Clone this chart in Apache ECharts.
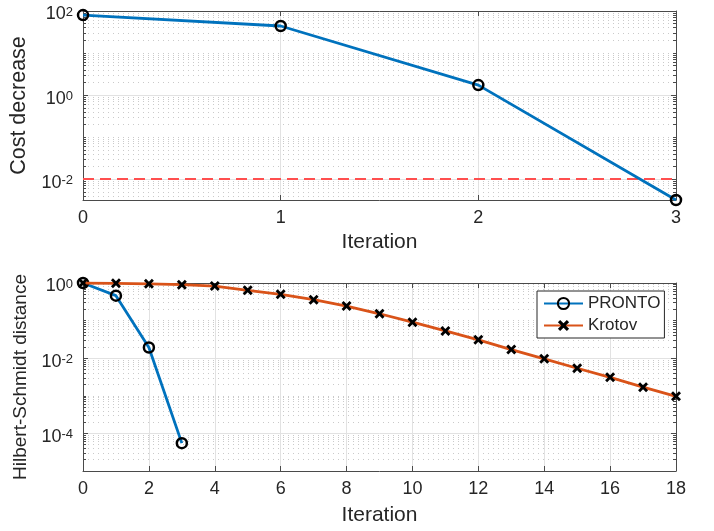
<!DOCTYPE html>
<html>
<head>
<meta charset="utf-8">
<script src="https://cdn.jsdelivr.net/npm/echarts@6/dist/echarts.min.js"></script>
<style>html,body{margin:0;padding:0;background:#fff}#c{width:714px;height:531px}</style>
</head>
<body>
<div id="c"></div>
<script>
// ---- data ----
const costIter = [0, 1, 2, 3];
const costValues = [80, 44, 1.73, 0.0032];
const costThreshold = 0.01;

const prontoIter = [0, 1, 2, 3];
const prontoValues = [1, 0.46, 0.0193, 5.5e-5];

const krotovIter = [0,1,2,3,4,5,6,7,8,9,10,11,12,13,14,15,16,17,18];
const krotovValues = [1, 0.98, 0.95, 0.9, 0.83, 0.64, 0.5, 0.36, 0.244, 0.152, 0.091, 0.053, 0.0308, 0.017, 0.0096, 0.0054, 0.0031, 0.0017, 0.00097];

const topXTicks = [0, 1, 2, 3];
const topYTicks = [0.01, 1, 100];
const bottomXTicks = [0, 2, 4, 6, 8, 10, 12, 14, 16, 18];
const bottomYTicks = [1e-4, 1e-2, 1];

const topYRange = [0.0032, 100];
const bottomYRange = [1e-5, 1];

// ---- helpers ----
const FONT = 'Liberation Sans, Arial, Helvetica, sans-serif';
const TXT = '#262626';
const AX = '#4a4a4a';
const MAJOR_GRID = '#e2e2e2';
const MINOR_GRID = '#cacaca';

function minorValues(range, majors) {
  const out = [];
  const k0 = Math.floor(Math.log10(range[0])) - 1;
  const k1 = Math.ceil(Math.log10(range[1])) + 1;
  for (let k = k0; k <= k1; k++) {
    for (let m = 1; m <= 9; m++) {
      const v = parseFloat((m * Math.pow(10, k)).toPrecision(6));
      if (v < range[0] * 0.999 || v > range[1] * 1.001) continue;
      if (majors.some(t => Math.abs(Math.log10(t) - Math.log10(v)) < 1e-6)) continue;
      out.push(v);
    }
  }
  return out;
}
function supLabel(v) {
  const e = Math.round(Math.log10(v));
  return '{b|10}{s|' + e + '}';
}
const richSup = {
  b: {fontSize: 18, fontFamily: FONT, color: TXT, lineHeight: 18, verticalAlign: 'bottom'},
  s: {fontSize: 13, fontFamily: FONT, color: TXT, lineHeight: 13, verticalAlign: 'top'}
};

function xAxes(gridIndex, ticks, name, nameGap) {
  const mn = ticks[0], mx = ticks[ticks.length - 1], iv = ticks[1] - ticks[0];
  return [
    {
      type: 'value', gridIndex, min: mn, max: mx, interval: iv, position: 'bottom',
      name, nameLocation: 'middle', nameGap,
      nameTextStyle: {fontSize: 21, fontFamily: FONT, color: TXT},
      axisLine: {show: true, onZero: false, lineStyle: {color: AX, width: 1}},
      axisTick: {show: true, inside: true, length: 5, lineStyle: {color: AX}},
      axisLabel: {fontSize: 18, fontFamily: FONT, color: TXT, margin: 9},
      splitLine: {show: true, lineStyle: {color: MAJOR_GRID, width: 1}}
    },
    {
      type: 'value', gridIndex, min: mn, max: mx, interval: iv, position: 'top',
      axisLine: {show: true, onZero: false, lineStyle: {color: AX, width: 1}},
      axisTick: {show: true, inside: true, length: 5, lineStyle: {color: AX}},
      axisLabel: {show: false},
      splitLine: {show: false}
    }
  ];
}

function yAxes(gridIndex, range, majors, name, nameSize, nameGap) {
  const minors = minorValues(range, majors);
  const base = {type: 'log', logBase: 10, gridIndex, min: range[0], max: range[1]};
  return [
    Object.assign({}, base, {
      position: 'left', name, nameLocation: 'middle', nameGap,
      nameTextStyle: {fontSize: nameSize, fontFamily: FONT, color: TXT},
      axisLine: {show: true, lineStyle: {color: AX, width: 1}},
      axisTick: {show: true, inside: true, length: 5, lineStyle: {color: AX}, customValues: majors},
      axisLabel: {show: true, margin: 10, customValues: majors, formatter: supLabel, rich: richSup, padding: [7, 0, 0, 0]},
      splitLine: {show: true, lineStyle: {color: MAJOR_GRID, width: 1}}
    }),
    Object.assign({}, base, {
      position: 'left',
      axisLine: {show: false},
      axisTick: {show: true, inside: true, length: 3, lineStyle: {color: AX}, customValues: minors},
      axisLabel: {show: false, customValues: minors},
      splitLine: {show: true, lineStyle: {color: MINOR_GRID, width: 1, type: [1, 4]}}
    }),
    Object.assign({}, base, {
      position: 'right',
      axisLine: {show: true, lineStyle: {color: AX, width: 1}},
      axisTick: {show: true, inside: true, length: 5, lineStyle: {color: AX}, customValues: majors},
      axisLabel: {show: false, customValues: majors},
      splitLine: {show: false}
    }),
    Object.assign({}, base, {
      position: 'right',
      axisLine: {show: false},
      axisTick: {show: true, inside: true, length: 3, lineStyle: {color: AX}, customValues: minors},
      axisLabel: {show: false, customValues: minors},
      splitLine: {show: false}
    })
  ];
}

const circleSym = {
  symbol: 'circle', symbolSize: 10,
  itemStyle: {color: 'rgba(0,0,0,0)', borderColor: '#000', borderWidth: 2.5}
};
const xSym = 'path://M2,0 L5,3 L8,0 L10,2 L7,5 L10,8 L8,10 L5,7 L2,10 L0,8 L3,5 L0,2 Z';

const pairs = (xs, ys) => xs.map((x, i) => [x, ys[i]]);

const option = {
  animation: false,
  backgroundColor: '#fff',
  textStyle: {fontFamily: FONT},
  grid: [
    {left: 83, right: 38, top: 11, height: 189, containLabel: false},
    {left: 83, right: 38, top: 283, height: 188, containLabel: false}
  ],
  xAxis: [].concat(xAxes(0, topXTicks, 'Iteration', 32), xAxes(1, bottomXTicks, 'Iteration', 34)),
  yAxis: [].concat(
    yAxes(0, topYRange, topYTicks, 'Cost decrease', 21.5, 46),
    yAxes(1, bottomYRange, bottomYTicks, 'Hilbert-Schmidt distance', 19, 47)
  ),
  legend: {
    data: ['PRONTO', 'Krotov'],
    orient: 'vertical', left: 537, top: 291,
    padding: [4, 4, 4, 6], itemGap: 5, itemWidth: 39, itemHeight: 14,
    backgroundColor: '#fff', borderColor: '#262626', borderWidth: 1,
    textStyle: {fontSize: 17, fontFamily: FONT, color: TXT}
  },
  series: [
    Object.assign({
      name: 'Cost', type: 'line', xAxisIndex: 0, yAxisIndex: 0,
      data: pairs(costIter, costValues),
      lineStyle: {color: '#0072BD', width: 2.8}, z: 5,
      markLine: {
        silent: true, symbol: 'none', label: {show: false},
        lineStyle: {color: '#ff4f4f', type: [11, 6], width: 2},
        data: [{yAxis: costThreshold}]
      }
    }, circleSym),
    Object.assign({
      name: 'PRONTO', type: 'line', xAxisIndex: 2, yAxisIndex: 4,
      data: pairs(prontoIter, prontoValues),
      lineStyle: {color: '#0072BD', width: 2.8}, z: 5
    }, circleSym),
    {
      name: 'Krotov', type: 'line', xAxisIndex: 2, yAxisIndex: 4,
      data: pairs(krotovIter, krotovValues),
      symbol: xSym, symbolSize: 10,
      itemStyle: {color: '#000'},
      lineStyle: {color: '#D95319', width: 2.8}, z: 6
    }
  ]
};

const chart = echarts.init(document.getElementById('c'), null, {renderer: 'canvas'});
chart.setOption(option);
</script>
</body>
</html>
